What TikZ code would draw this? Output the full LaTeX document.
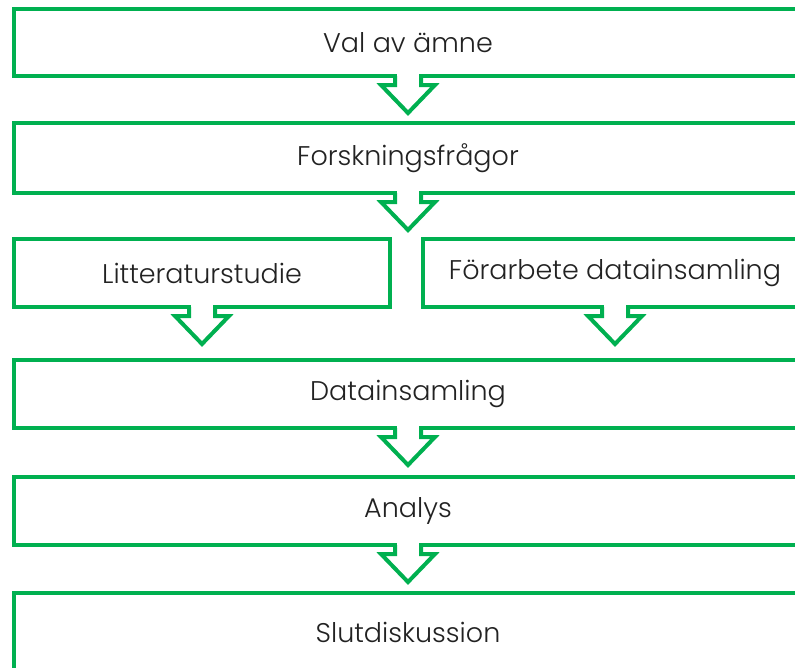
\documentclass[tikz,border=0pt]{standalone}
\usepackage{fontspec}
\setmainfont{Poppins}[UprightFont=* Light]
\definecolor{flowgreen}{HTML}{00B050}
\definecolor{flowtext}{HTML}{222222}
\begin{document}
\begin{tikzpicture}[x=1pt,y=-1pt,
  stagebox/.style={draw=flowgreen, line width=4pt, fill=white, inner sep=0pt,
    outer sep=0pt, minimum height=68pt, text=flowtext, font=\fontsize{27}{31}\selectfont},
  blockarrow/.style={draw=flowgreen, line width=4pt, fill=white, line join=miter}]
\useasboundingbox (0,0) rectangle (795,667);
\clip (0,0) rectangle (795,667);
% a hollow block arrow hanging from the bottom edge of a box
\newcommand\hangarrow[1]{%
  \begin{scope}[shift={(#1.south)}]
    \fill[white] (-11,-3) rectangle (11,10);
    \path[blockarrow] (-13,0) -- (-13,9) -- (-27,9) -- (0,37) -- (27,9) -- (13,9) -- (13,0);
  \end{scope}}

\node[stagebox, minimum width=788pt, minimum height=67pt] (val) at (408,42.5) {Val av ämne};
\node[stagebox, minimum width=788pt, minimum height=70pt] (fragor) at (408,158) {Forskningsfrågor};
\node[stagebox, minimum width=376pt] (litt) at (202,273) {Litteraturstudie};
\node[stagebox, minimum width=384pt] (forarb) at (615,273) {Förarbete datainsamling};
\node[stagebox, minimum width=788pt] (data) at (408,394) {Datainsamling};
\node[stagebox, minimum width=788pt] (analys) at (408,511) {Analys};
\node[stagebox, minimum width=788pt, minimum height=78pt] (slut) at (408,632) {Slutdiskussion};

\hangarrow{val}
\hangarrow{fragor}
\hangarrow{litt}
\hangarrow{forarb}
\hangarrow{data}
\hangarrow{analys}
\end{tikzpicture}
\end{document}
